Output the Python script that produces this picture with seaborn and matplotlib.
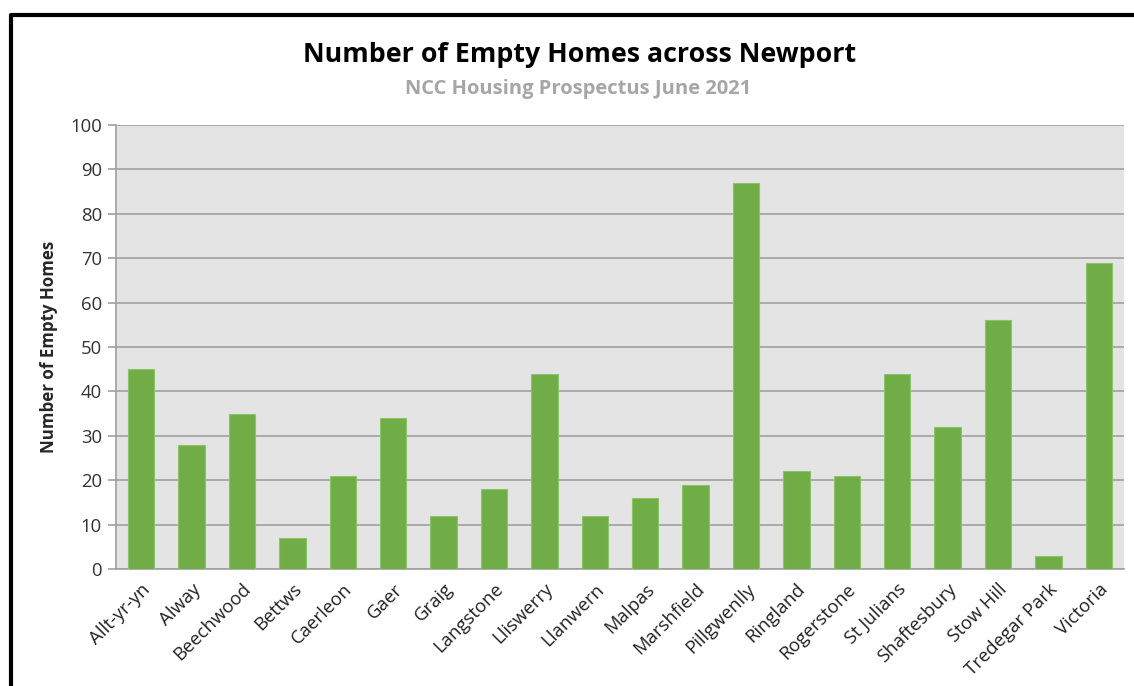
import matplotlib
matplotlib.use("Agg")
import matplotlib.pyplot as plt
import seaborn as sns
import pandas as pd
from matplotlib.lines import Line2D

areas = ["Allt-yr-yn", "Alway", "Beechwood", "Bettws", "Caerleon", "Gaer", "Graig",
         "Langstone", "Lliswerry", "Llanwern", "Malpas", "Marshfield", "Pillgwenlly",
         "Ringland", "Rogerstone", "St Julians", "Shaftesbury", "Stow Hill",
         "Tredegar Park", "Victoria"]
empty_homes = [45, 28, 35, 7, 21, 34, 12, 18, 44, 12, 16, 19, 87, 22, 21, 44, 32, 56, 3, 69]
y_ticks = [0, 10, 20, 30, 40, 50, 60, 70, 80, 90, 100]

df = pd.DataFrame({"Area": areas, "Empty": empty_homes})

sns.set_theme(style="white")
plt.rcParams['font.family'] = ['Open Sans', 'DejaVu Sans']

fig = plt.figure(figsize=(11.34, 6.86), dpi=100)
ax = fig.add_axes([116/1134, 1-569/686, (1124-116)/1134, (569-125)/686])
ax.set_facecolor("#e4e4e4")

sns.barplot(data=df, x="Area", y="Empty", color="#70ad47", width=0.52,
            saturation=1, ax=ax, edgecolor="#8cc46a", linewidth=0.8, zorder=3)

ax.set_ylim(0, 100)
ax.set_xlim(-0.5, len(areas)-0.5)
ax.set_yticks(y_ticks)
ax.set_yticklabels([str(v) for v in y_ticks], fontsize=13.3, color="#333333")
ax.yaxis.grid(True, color="#a0a0a0", linewidth=1.2, zorder=0)
ax.set_axisbelow(True)

ax.set_xticks(range(len(areas)))
ax.set_xticklabels(areas, rotation=45, ha="right", rotation_mode="anchor",
                   fontsize=13.3, color="#222222")
ax.tick_params(axis="x", which="major", length=0, pad=8)
ax.set_xticks([i - 0.5 for i in range(len(areas)+1)], minor=True)
ax.tick_params(axis="x", which="minor", length=6, color="#a0a0a0", width=1.2, direction="out")
ax.tick_params(axis="y", length=6, color="#a0a0a0", width=1.2, direction="out", pad=4, left=True)

for s in ["top", "right"]:
    ax.spines[s].set_visible(False)
for s in ["left", "bottom"]:
    ax.spines[s].set_color("#a0a0a0")
    ax.spines[s].set_linewidth(1.2)

ax.set_xlabel("")
ax.set_ylabel("Number of Empty Homes", fontsize=12.2, fontweight="bold", labelpad=9)

fig.text(580/1134, 1-55/686, "Number of Empty Homes across Newport", ha="center", va="center",
         fontsize=19.3, fontweight="bold", color="#000000")
fig.text(578/1134, 1-89/686, "NCC Housing Prospectus June 2021", ha="center", va="center",
         fontsize=14.5, fontweight="bold", color="#a6a6a6")

# outer border (cropped: only left and top visible)
fig.add_artist(Line2D([10.5/1134, 10.5/1134, 1.0], [0, 1-15/686, 1-15/686],
                      transform=fig.transFigure, color="black", linewidth=3))

fig.savefig("out.png", dpi=100, facecolor="white")
